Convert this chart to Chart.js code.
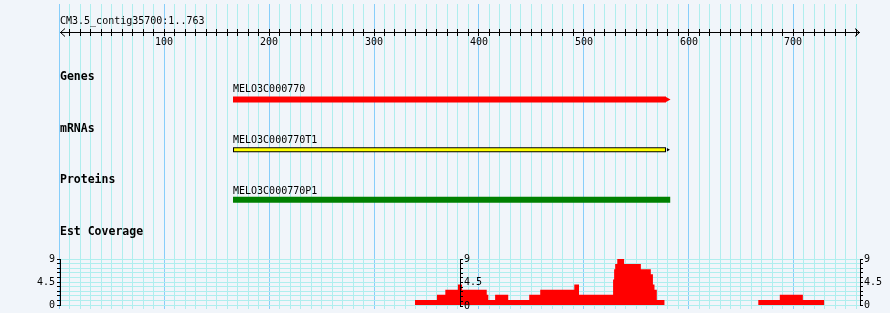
<!DOCTYPE html>
<html><head><meta charset="utf-8">
<script src="https://cdn.jsdelivr.net/npm/chart.js@4/dist/chart.umd.min.js"></script>
<style>
html,body{margin:0;padding:0;background:#f1f5fa;}
#wrap{position:relative;width:890px;height:313px;background:#f1f5fa;overflow:hidden;}
canvas{position:absolute;left:0;}
</style></head><body>
<div id="wrap">
<canvas id="main" width="890" height="313" style="top:0;width:890px;height:313px"></canvas>
<canvas id="cov" width="890" height="63" style="top:250px;width:890px;height:63px"></canvas>
<canvas id="mid" width="890" height="63" style="top:250px;width:890px;height:63px"></canvas>
</div>
<script>
// ---------------- data ----------------
const sequenceName = 'CM3.5_contig35700';
const sequenceStart = 1;
const sequenceEnd = 763;
const rulerLabels = [100, 200, 300, 400, 500, 600, 700];
const trackNames = ['Genes', 'mRNAs', 'Proteins', 'Est Coverage'];
const featureNames = ['MELO3C000770', 'MELO3C000770T1', 'MELO3C000770P1'];
const featureStarts = [166, 166, 166];
const featureEnds = [582, 582, 582];
const coverageStarts = [339, 360, 368, 380, 384, 407.5, 409, 415.5, 428, 448, 458.5, 491, 495.5,
  528, 529, 530, 532, 538.5, 554.5, 564, 566, 567.5, 569.7, 577, 666.5, 687, 709, 729.5];
const coverageValues = [1, 2, 3, 4, 3, 2, 1, 2, 1, 2, 3, 4, 2,
  5, 7, 8, 9, 8, 7, 6, 4, 3, 1, 0, 1, 2, 1, 0];
const coverageTickLabels = [0, 4.5, 9];
const coverageMax = 9;

// ---------------- layout / style ----------------
const X_MIN = sequenceStart - 0.5, X_MAX = sequenceEnd + 0.5;
const MAJOR = '#87cefa', MINOR = '#afeeee';
const MONO = '"DejaVu Sans Mono", "Liberation Mono", monospace';
const RULER_Y = 32.5;
const TITLE_BASE = 24;
const TRACK_LABEL_BASE = [80, 131.5, 183, 235];
const FEATURE_LABEL_BASE = [92, 143, 194];
const ROW_Y = [98, 149.5, 201];     // pixel-like row centres on hidden layout axis
const ARROW_UNITS = 4;              // arrowhead length in sequence units
const featureColors = ['#ff0000', '#ffff00', '#008000'];

Chart.defaults.font.family = MONO;
Chart.defaults.color = '#000';

const gridTicks = [];
for (let v = 0; v <= sequenceEnd; v += 10) gridTicks.push(v);
const covTicks = [];
for (let i = 0; i <= 10; i++) covTicks.push(Math.round(i * coverageMax) / 10);

function seg(i, a, b) { return [{x: a, y: ROW_Y[i]}, {x: b, y: ROW_Y[i]}]; }

const datasets = [
  // gene
  {data: seg(0, featureStarts[0] - 0.5, featureEnds[0] + 0.5 - ARROW_UNITS), borderColor: featureColors[0], borderWidth: 6, pointRadius: 0, order: 5},
  {data: [{x: featureEnds[0] + 0.5 - 2.6, y: ROW_Y[0]}], showLine: false, pointStyle: 'triangle', rotation: 90, pointRadius: 3,
   backgroundColor: featureColors[0], borderColor: featureColors[0], pointBorderWidth: 0, order: 5},
  // mRNA
  {data: seg(1, featureStarts[1] - 0.5, featureEnds[1] + 0.5 - ARROW_UNITS), borderColor: '#000', borderWidth: 5, pointRadius: 0, order: 4},
  {data: seg(1, featureStarts[1] + 0.5, featureEnds[1] - 0.5 - ARROW_UNITS), borderColor: featureColors[1], borderWidth: 3, pointRadius: 0, order: 3},
  {data: [{x: featureEnds[1] + 0.5 - 2.2, y: ROW_Y[1]}], showLine: false, pointStyle: 'triangle', rotation: 90, pointRadius: 2,
   backgroundColor: '#000', borderColor: '#000', pointBorderWidth: 0, order: 4},
  // protein
  {data: seg(2, featureStarts[2] - 0.5, featureEnds[2] + 0.5), borderColor: featureColors[2], borderWidth: 6, pointRadius: 0, order: 5}
];

const textPlugin = {
  id: 'gbrowseText',
  afterDatasetsDraw(chart) {
    const ctx = chart.ctx, xs = chart.scales.x;
    const x0 = xs.getPixelForValue(X_MIN), x1 = xs.getPixelForValue(X_MAX);
    ctx.save();
    // ruler
    ctx.strokeStyle = '#000'; ctx.lineWidth = 1;
    ctx.beginPath();
    ctx.moveTo(x0, RULER_Y); ctx.lineTo(x1, RULER_Y);
    for (let v = 10; v <= sequenceEnd; v += 10) {
      const px = Math.round(xs.getPixelForValue(v) - 0.5) + 0.5;
      ctx.moveTo(px, RULER_Y - 3.5); ctx.lineTo(px, RULER_Y + 3.5);
    }
    ctx.moveTo(x0 + 5, RULER_Y - 4); ctx.lineTo(x0 + 0.5, RULER_Y); ctx.lineTo(x0 + 5, RULER_Y + 4);
    ctx.moveTo(x1 - 5, RULER_Y - 4); ctx.lineTo(x1 - 0.5, RULER_Y); ctx.lineTo(x1 - 5, RULER_Y + 4);
    ctx.stroke();
    ctx.fillStyle = '#000';
    ctx.font = '10px ' + MONO;
    ctx.textBaseline = 'alphabetic';
    ctx.textAlign = 'center';
    rulerLabels.forEach(v => ctx.fillText(String(v), Math.round(xs.getPixelForValue(v)), 45));
    ctx.textAlign = 'left';
    ctx.fillText(sequenceName + ':' + sequenceStart + '..' + sequenceEnd, x0, TITLE_BASE);
    // feature labels
    featureNames.forEach((n, i) => ctx.fillText(n, xs.getPixelForValue(featureStarts[i] - 0.5), FEATURE_LABEL_BASE[i]));
    // track labels
    ctx.font = 'bold 11.5px ' + MONO;
    trackNames.forEach((n, i) => ctx.fillText(n, x0, TRACK_LABEL_BASE[i]));
    ctx.restore();
  }
};

new Chart(document.getElementById('main'), {
  type: 'line',
  data: {datasets},
  options: {
    responsive: false, animation: false, events: [],
    layout: {padding: {left: 60, right: 30, top: 0, bottom: 0}},
    plugins: {legend: {display: false}, tooltip: {enabled: false}},
    scales: {
      x: {type: 'linear', min: X_MIN, max: X_MAX,
          afterBuildTicks: s => { s.ticks = gridTicks.map(v => ({value: v})); },
          afterFit: s => { s.height = 0; },
          ticks: {display: false},
          border: {display: false},
          grid: {drawTicks: false, lineWidth: 1,
                 color: c => (c.tick && c.tick.value % 100 === 0) ? MAJOR : MINOR}},
      y: {type: 'linear', min: 0, max: 313, reverse: true, display: false}
    }
  },
  plugins: [textPlugin]
});

const covAxisTicks = {
  autoSkip: false, padding: 2, color: '#000',
  font: {family: MONO, size: 10},
  callback: v => coverageTickLabels.includes(v) ? String(v) : ''
};
const setCovTicks = s => { s.ticks = covTicks.map(v => ({value: v})); };

new Chart(document.getElementById('cov'), {
  type: 'line',
  data: {datasets: [{
    data: coverageStarts.map((s, i) => ({x: s, y: coverageValues[i]})),
    stepped: 'before', fill: 'origin', backgroundColor: '#ff0000', borderWidth: 0, pointRadius: 0
  }]},
  options: {
    responsive: false, animation: false, events: [],
    layout: {padding: {left: 0, right: 0, top: 9, bottom: 6}},
    plugins: {legend: {display: false}, tooltip: {enabled: false}},
    scales: {
      x: {type: 'linear', min: X_MIN, max: X_MAX, display: false},
      y: {type: 'linear', position: 'left', min: 0, max: coverageMax,
          afterBuildTicks: setCovTicks, afterFit: s => { s.width = 60; },
          ticks: covAxisTicks,
          grid: {color: MINOR, tickColor: '#000', tickLength: 3},
          border: {color: '#000'}},
      y2: {type: 'linear', position: 'right', min: 0, max: coverageMax,
          afterBuildTicks: setCovTicks, afterFit: s => { s.width = 30; },
          ticks: Object.assign({}, covAxisTicks, {padding: 1}),
          grid: {drawOnChartArea: false, tickColor: '#000', tickLength: 3},
          border: {color: '#000'}}
    }
  }
});

new Chart(document.getElementById('mid'), {
  type: 'line',
  data: {datasets: []},
  options: {
    responsive: false, animation: false, events: [],
    layout: {padding: {left: 0, right: 0, top: 9, bottom: 6}},
    plugins: {legend: {display: false}, tooltip: {enabled: false}},
    scales: {
      x: {type: 'linear', min: X_MIN, max: X_MAX, display: false},
      y: {type: 'linear', position: 'right', min: 0, max: coverageMax,
          afterBuildTicks: setCovTicks, afterFit: s => { s.width = 430; },
          ticks: Object.assign({}, covAxisTicks, {padding: 1}),
          grid: {drawOnChartArea: false, tickColor: '#000', tickLength: 3},
          border: {color: '#000'}}
    }
  }
});
</script>
</body></html>
